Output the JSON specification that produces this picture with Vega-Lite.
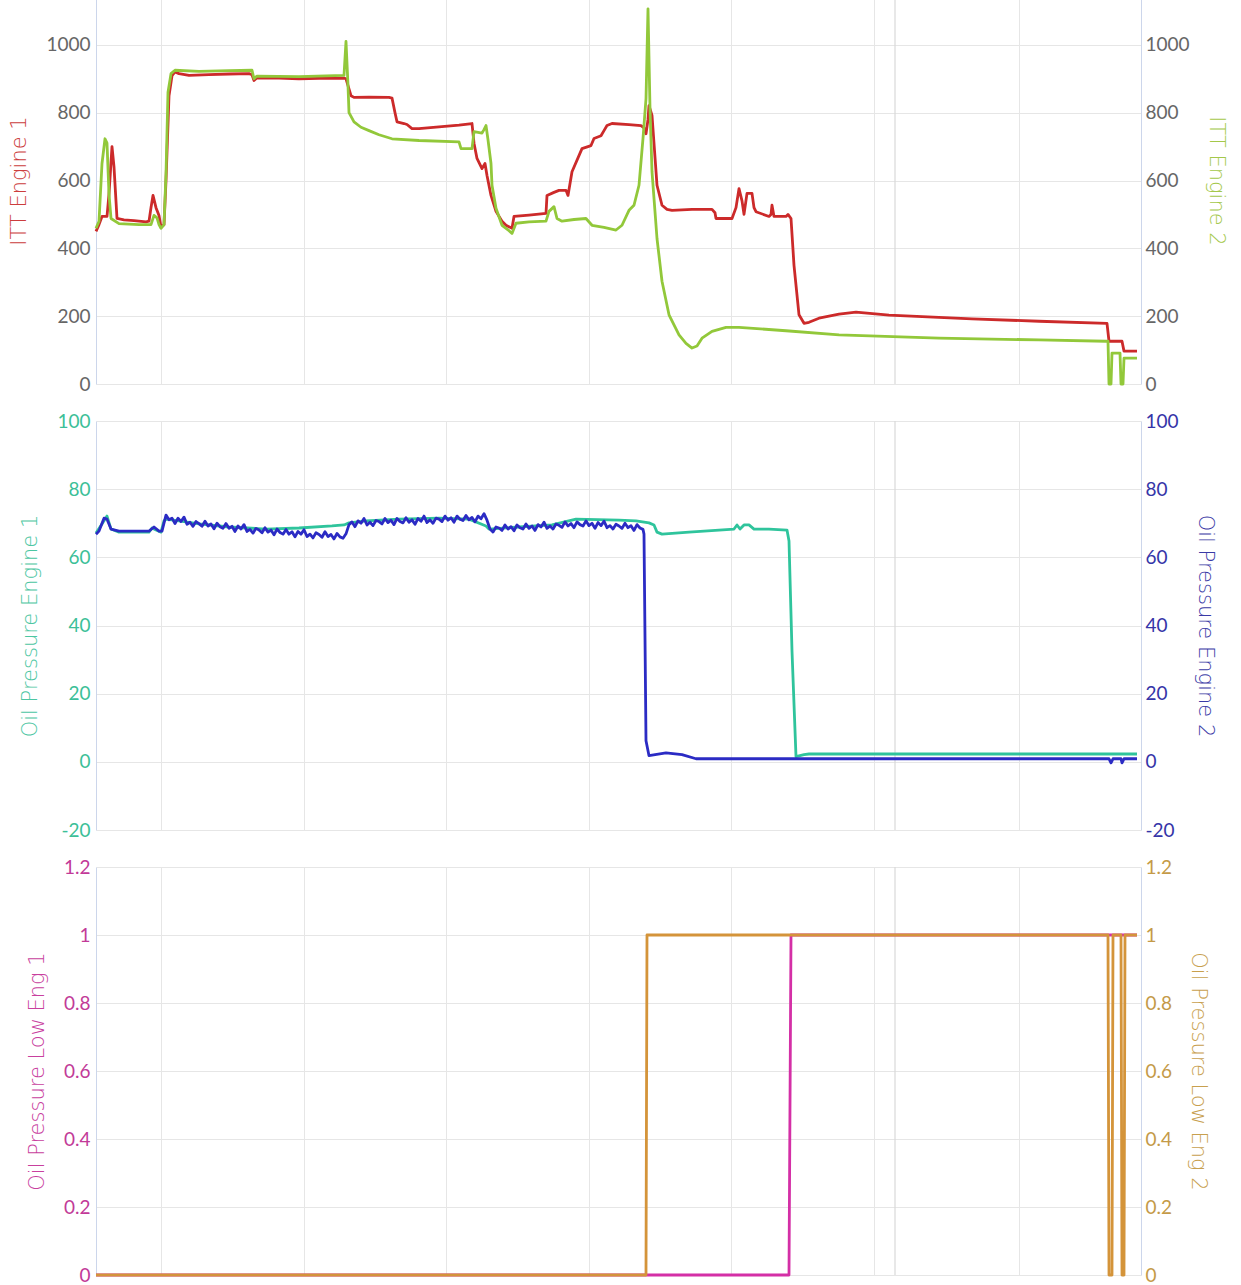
{
  "$schema": "https://vega.github.io/schema/vega-lite/v6.json",
  "padding": {"left": 8, "top": -24, "right": 5, "bottom": 5},
  "bounds": "flush",
  "spacing": 37,
  "config": {
    "view": {"stroke": null},
    "axis": {
      "labelFont": "Lato", "labelFontSize": 19, "labelFontWeight": "normal",
      "titleFont": "DejaVu Sans", "titleFontSize": 21, "titleFontWeight": 300,
      "ticks": false, "domainColor": "#ccd6eb", "domainWidth": 1,
      "gridColor": "#e6e6e6", "gridWidth": 1, "labelPadding": 6, "titlePadding": 16
    },
    "line": {"strokeWidth": 2.8, "strokeJoin": "round"}
  },
  "datasets": {
    "marker": [{"t": 799}],
    "itt1": [
      {"t":0,"v":450},{"t":3,"v":470},{"t":6,"v":494},{"t":11,"v":494},{"t":13,"v":560},{"t":16,"v":700},{"t":18,"v":640},{"t":21,"v":488},{"t":28,"v":484},{"t":38,"v":482},{"t":50,"v":478},{"t":53,"v":480},{"t":55,"v":520},{"t":57,"v":556},{"t":60,"v":520},{"t":63,"v":497},{"t":65,"v":462},{"t":68,"v":470},{"t":70,"v":600},{"t":73,"v":850},{"t":76,"v":909},{"t":79,"v":920},{"t":83,"v":915},{"t":93,"v":910},{"t":113,"v":912},{"t":133,"v":914},{"t":153,"v":915},{"t":156,"v":912},{"t":158,"v":895},{"t":161,"v":903},{"t":183,"v":902},{"t":203,"v":900},{"t":223,"v":901},{"t":248,"v":902},{"t":250,"v":900},{"t":252,"v":880},{"t":255,"v":850},{"t":258,"v":845},{"t":273,"v":846},{"t":293,"v":845},{"t":296,"v":843},{"t":299,"v":800},{"t":301,"v":773},{"t":308,"v":768},{"t":311,"v":765},{"t":316,"v":753},{"t":323,"v":753},{"t":343,"v":758},{"t":363,"v":763},{"t":376,"v":768},{"t":378,"v":710},{"t":381,"v":665},{"t":386,"v":635},{"t":389,"v":650},{"t":391,"v":615},{"t":395,"v":556},{"t":400,"v":509},{"t":406,"v":480},{"t":410,"v":468},{"t":416,"v":459},{"t":418,"v":494},{"t":433,"v":498},{"t":450,"v":503},{"t":451,"v":556},{"t":458,"v":565},{"t":463,"v":571},{"t":470,"v":571},{"t":472,"v":556},{"t":476,"v":626},{"t":486,"v":694},{"t":495,"v":703},{"t":498,"v":724},{"t":505,"v":732},{"t":508,"v":747},{"t":511,"v":762},{"t":516,"v":768},{"t":533,"v":765},{"t":545,"v":762},{"t":548,"v":755},{"t":550,"v":738},{"t":552,"v":780},{"t":553,"v":821},{"t":556,"v":792},{"t":561,"v":586},{"t":566,"v":527},{"t":571,"v":515},{"t":576,"v":512},{"t":596,"v":515},{"t":616,"v":515},{"t":619,"v":505},{"t":620,"v":488},{"t":636,"v":488},{"t":640,"v":520},{"t":643,"v":576},{"t":646,"v":540},{"t":648,"v":500},{"t":651,"v":562},{"t":656,"v":562},{"t":658,"v":520},{"t":660,"v":508},{"t":673,"v":494},{"t":675,"v":500},{"t":676,"v":527},{"t":678,"v":494},{"t":690,"v":494},{"t":692,"v":500},{"t":695,"v":488},{"t":698,"v":350},{"t":703,"v":204},{"t":708,"v":179},{"t":713,"v":182},{"t":723,"v":194},{"t":743,"v":206},{"t":760,"v":212},{"t":793,"v":203},{"t":876,"v":192},{"t":943,"v":185},{"t":1011,"v":179},{"t":1013,"v":126},{"t":1026,"v":126},{"t":1028,"v":97},{"t":1041,"v":97}
    ],
    "itt2": [
      {"t":0,"v":459},{"t":3,"v":480},{"t":6,"v":650},{"t":9,"v":723},{"t":11,"v":710},{"t":13,"v":560},{"t":15,"v":488},{"t":23,"v":473},{"t":43,"v":470},{"t":55,"v":470},{"t":58,"v":497},{"t":61,"v":490},{"t":63,"v":470},{"t":65,"v":459},{"t":68,"v":470},{"t":70,"v":620},{"t":72,"v":860},{"t":75,"v":915},{"t":79,"v":925},{"t":103,"v":922},{"t":133,"v":924},{"t":156,"v":925},{"t":158,"v":900},{"t":161,"v":908},{"t":203,"v":906},{"t":248,"v":910},{"t":250,"v":1010},{"t":252,"v":880},{"t":253,"v":800},{"t":258,"v":773},{"t":265,"v":757},{"t":273,"v":747},{"t":283,"v":735},{"t":296,"v":723},{"t":323,"v":718},{"t":363,"v":714},{"t":365,"v":694},{"t":376,"v":694},{"t":378,"v":744},{"t":386,"v":740},{"t":388,"v":750},{"t":390,"v":762},{"t":392,"v":720},{"t":395,"v":650},{"t":396,"v":586},{"t":400,"v":518},{"t":406,"v":468},{"t":413,"v":452},{"t":416,"v":444},{"t":420,"v":474},{"t":433,"v":478},{"t":450,"v":480},{"t":453,"v":509},{"t":458,"v":523},{"t":461,"v":488},{"t":466,"v":480},{"t":478,"v":485},{"t":490,"v":488},{"t":496,"v":468},{"t":508,"v":462},{"t":520,"v":454},{"t":526,"v":468},{"t":533,"v":512},{"t":538,"v":527},{"t":543,"v":586},{"t":547,"v":724},{"t":550,"v":841},{"t":552,"v":1106},{"t":554,"v":812},{"t":556,"v":626},{"t":561,"v":429},{"t":566,"v":303},{"t":573,"v":204},{"t":583,"v":145},{"t":590,"v":120},{"t":596,"v":106},{"t":601,"v":112},{"t":606,"v":135},{"t":616,"v":155},{"t":630,"v":167},{"t":643,"v":167},{"t":690,"v":157},{"t":743,"v":145},{"t":843,"v":135},{"t":943,"v":130},{"t":1010,"v":126},{"t":1012,"v":126},{"t":1013,"v":0},{"t":1015,"v":0},{"t":1016,"v":91},{"t":1024,"v":91},{"t":1025,"v":0},{"t":1027,"v":0},{"t":1028,"v":76},{"t":1041,"v":76}
    ],
    "op1": [
      {"t":0,"v":67.1},{"t":6,"v":69.8},{"t":11,"v":72.1},{"t":15,"v":68.3},{"t":23,"v":67.4},{"t":53,"v":67.4},{"t":56,"v":68.6},{"t":60,"v":68.0},{"t":65,"v":67.4},{"t":68,"v":70.7},{"t":70,"v":71.2},{"t":83,"v":70.7},{"t":103,"v":69.8},{"t":133,"v":68.9},{"t":170,"v":68.3},{"t":203,"v":68.6},{"t":236,"v":69.2},{"t":248,"v":69.5},{"t":253,"v":70.1},{"t":270,"v":70.7},{"t":303,"v":71.2},{"t":343,"v":71.5},{"t":373,"v":71.2},{"t":390,"v":69.2},{"t":393,"v":68.3},{"t":423,"v":68.9},{"t":456,"v":69.5},{"t":480,"v":71.2},{"t":523,"v":70.9},{"t":540,"v":70.7},{"t":553,"v":70.1},{"t":558,"v":69.5},{"t":561,"v":67.4},{"t":566,"v":66.8},{"t":593,"v":67.4},{"t":623,"v":68.0},{"t":638,"v":68.3},{"t":641,"v":69.5},{"t":644,"v":68.3},{"t":648,"v":69.5},{"t":653,"v":69.5},{"t":658,"v":68.3},{"t":673,"v":68.3},{"t":691,"v":68.0},{"t":693,"v":64.8},{"t":696,"v":32.5},{"t":700,"v":1.5},{"t":708,"v":2.1},{"t":713,"v":2.3},{"t":1041,"v":2.3}
    ],
    "op2": [
      {"t":0,"v":66.8},{"t":3,"v":67.7},{"t":8,"v":71.5},{"t":11,"v":71.2},{"t":15,"v":68.3},{"t":23,"v":67.7},{"t":53,"v":67.7},{"t":58,"v":68.9},{"t":63,"v":67.7},{"t":66,"v":67.7},
      {"t":70,"v":72.4},{"t":73,"v":71.0},{"t":76,"v":71.5},{"t":79,"v":69.9},{"t":82,"v":71.5},{"t":85,"v":70.5},{"t":88,"v":71.8},{"t":91,"v":69.7},{"t":94,"v":70.3},{"t":97,"v":69.1},{"t":100,"v":70.5},{"t":103,"v":69.9},{"t":106,"v":69.1},{"t":109,"v":70.6},{"t":112,"v":69.2},{"t":115,"v":69.8},{"t":118,"v":68.4},{"t":121,"v":70.0},{"t":124,"v":69.0},{"t":127,"v":68.5},{"t":130,"v":69.9},{"t":133,"v":68.5},{"t":136,"v":69.1},{"t":139,"v":67.6},{"t":142,"v":69.2},{"t":145,"v":68.3},{"t":148,"v":69.6},{"t":151,"v":67.6},{"t":154,"v":68.2},{"t":157,"v":67.1},{"t":160,"v":68.5},{"t":163,"v":68.0},{"t":166,"v":67.2},{"t":169,"v":68.7},{"t":172,"v":67.4},{"t":175,"v":68.0},{"t":178,"v":66.6},{"t":181,"v":68.3},{"t":184,"v":67.3},{"t":187,"v":66.8},{"t":190,"v":68.2},{"t":193,"v":66.8},{"t":196,"v":67.5},{"t":199,"v":66.0},{"t":202,"v":67.6},{"t":205,"v":66.8},{"t":208,"v":68.1},{"t":211,"v":66.1},{"t":214,"v":66.8},{"t":217,"v":65.7},{"t":220,"v":67.2},{"t":223,"v":66.7},{"t":226,"v":65.9},{"t":229,"v":67.5},{"t":232,"v":66.1},{"t":235,"v":66.7},{"t":238,"v":65.4},{"t":241,"v":67.0},{"t":244,"v":66.0},{"t":247,"v":65.6},{"t":250,"v":66.9},
      {"t":253,"v":69.6},{"t":256,"v":70.4},{"t":259,"v":69.0},{"t":262,"v":70.7},{"t":265,"v":70.0},{"t":268,"v":71.4},{"t":271,"v":69.5},{"t":274,"v":70.3},{"t":277,"v":69.3},{"t":280,"v":70.8},{"t":283,"v":70.5},{"t":286,"v":69.8},{"t":289,"v":71.4},{"t":292,"v":70.2},{"t":295,"v":70.9},{"t":298,"v":69.6},{"t":301,"v":71.4},{"t":304,"v":70.5},{"t":307,"v":70.1},{"t":310,"v":71.6},{"t":313,"v":70.3},{"t":316,"v":71.0},{"t":319,"v":69.7},{"t":322,"v":71.4},{"t":325,"v":70.6},{"t":328,"v":72.1},{"t":331,"v":70.2},{"t":334,"v":71.0},{"t":337,"v":70.0},{"t":340,"v":71.5},{"t":343,"v":71.2},{"t":346,"v":70.5},{"t":349,"v":72.1},{"t":352,"v":70.9},{"t":355,"v":71.6},{"t":358,"v":70.3},{"t":361,"v":72.1},{"t":364,"v":71.2},{"t":367,"v":70.8},{"t":370,"v":72.3},{"t":373,"v":71.0},{"t":376,"v":71.7},{"t":379,"v":70.4},{"t":382,"v":72.1},{"t":385,"v":71.3},{"t":388,"v":72.8},{"t":391,"v":70.9},
      {"t":394,"v":68.3},{"t":397,"v":67.4},{"t":400,"v":68.9},{"t":403,"v":68.6},{"t":406,"v":67.9},{"t":409,"v":69.5},{"t":412,"v":68.3},{"t":415,"v":69.0},{"t":418,"v":67.8},{"t":421,"v":69.5},{"t":424,"v":68.7},{"t":427,"v":68.3},{"t":430,"v":69.8},{"t":433,"v":68.5},{"t":436,"v":69.2},{"t":439,"v":67.9},{"t":442,"v":69.6},{"t":445,"v":68.9},{"t":448,"v":70.3},{"t":451,"v":68.5},{"t":454,"v":69.2},{"t":457,"v":68.3},{"t":460,"v":69.8},{"t":463,"v":69.4},{"t":466,"v":68.8},{"t":469,"v":70.4},{"t":472,"v":69.2},{"t":475,"v":69.9},{"t":478,"v":68.7},{"t":481,"v":70.4},{"t":484,"v":69.6},{"t":487,"v":69.2},{"t":490,"v":70.7},{"t":493,"v":69.3},{"t":496,"v":70.0},{"t":499,"v":68.5},{"t":502,"v":70.2},{"t":505,"v":69.3},{"t":508,"v":70.6},{"t":511,"v":68.7},{"t":514,"v":69.3},{"t":517,"v":68.3},{"t":520,"v":69.7},{"t":523,"v":69.2},{"t":526,"v":68.5},{"t":529,"v":70.0},{"t":532,"v":68.7},{"t":535,"v":69.3},{"t":538,"v":67.9},{"t":541,"v":69.6},{"t":544,"v":68.6},{"t":547,"v":68.2},
      {"t":548,"v":66.8},{"t":550,"v":6.2},{"t":553,"v":1.8},{"t":570,"v":2.6},{"t":586,"v":2.1},{"t":600,"v":0.9},{"t":1013,"v":0.9},{"t":1015,"v":-0.3},{"t":1017,"v":0.9},{"t":1025,"v":0.9},{"t":1026,"v":-0.3},{"t":1028,"v":0.9},{"t":1041,"v":0.9}
    ],
    "opl1": [
      {"t":0,"v":0},{"t":693,"v":0},{"t":695,"v":1},{"t":1041,"v":1}
    ],
    "opl2": [
      {"t":0,"v":0},{"t":550,"v":0},{"t":551,"v":1},{"t":1012,"v":1},{"t":1013,"v":0},{"t":1016,"v":0},{"t":1017,"v":1},{"t":1025,"v":1},{"t":1026,"v":0},{"t":1028,"v":0},{"t":1029,"v":1},{"t":1041,"v":1}
    ]
  },
  "vconcat": [
    {
      "width": 1045, "height": 407,
      "layer": [
        {
          "data": {"name": "marker"},
          "mark": {"type": "rule", "color": "#d9d9d9", "strokeWidth": 1.2},
          "encoding": {"x": {"field": "t", "type": "quantitative", "scale": {"domain": [0, 1045], "nice": false, "zero": false}, "axis": {"grid": true, "labels": false, "ticks": false, "domain": false, "title": null, "values": [65, 208, 350, 493, 635, 778, 923]}}}
        },
        {
          "data": {"name": "itt1"},
          "mark": {"type": "line", "color": "#cc2a2a"},
          "encoding": {
            "x": {"field": "t", "type": "quantitative", "scale": {"domain": [0, 1045], "nice": false, "zero": false}, "axis": {"grid": true, "labels": false, "ticks": false, "domain": false, "title": null, "values": [65, 208, 350, 493, 635, 778, 923]}},
            "y": {"field": "v", "type": "quantitative", "scale": {"domain": [0, 1200], "nice": false}, "axis": {"orient": "left", "title": "ITT Engine 1", "titleColor": "#cc3d3d", "labelColor": "#666666", "values": [0, 200, 400, 600, 800, 1000], "format": "d", "grid": true}}
          }
        },
        {
          "data": {"name": "itt2"},
          "mark": {"type": "line", "color": "#92c83a"},
          "encoding": {
            "x": {"field": "t", "type": "quantitative", "scale": {"domain": [0, 1045], "nice": false, "zero": false}, "axis": {"grid": true, "labels": false, "ticks": false, "domain": false, "title": null, "values": [65, 208, 350, 493, 635, 778, 923]}},
            "y": {"field": "v", "type": "quantitative", "scale": {"domain": [0, 1200], "nice": false}, "axis": {"orient": "right", "title": "ITT Engine 2", "titleColor": "#a4c84a", "labelColor": "#666666", "values": [0, 200, 400, 600, 800, 1000], "format": "d", "grid": false, "labelPadding": 4}}
          }
        }
      ],
      "resolve": {"scale": {"y": "independent"}}
    },
    {
      "width": 1045, "height": 409,
      "layer": [
        {
          "data": {"name": "marker"},
          "mark": {"type": "rule", "color": "#d9d9d9", "strokeWidth": 1.2},
          "encoding": {"x": {"field": "t", "type": "quantitative", "scale": {"domain": [0, 1045], "nice": false, "zero": false}, "axis": {"grid": true, "labels": false, "ticks": false, "domain": false, "title": null, "values": [65, 208, 350, 493, 635, 778, 923]}}}
        },
        {
          "data": {"name": "op1"},
          "mark": {"type": "line", "color": "#2fc49c"},
          "encoding": {
            "x": {"field": "t", "type": "quantitative", "scale": {"domain": [0, 1045], "nice": false, "zero": false}, "axis": {"grid": true, "labels": false, "ticks": false, "domain": false, "title": null, "values": [65, 208, 350, 493, 635, 778, 923]}},
            "y": {"field": "v", "type": "quantitative", "scale": {"domain": [-20, 100], "nice": false, "zero": false}, "axis": {"orient": "left", "title": "Oil Pressure Engine 1", "titleColor": "#4cc6a2", "labelColor": "#3cbf98", "values": [-20, 0, 20, 40, 60, 80, 100], "labelExpr": "replace(datum.label, '\u2212', '-')", "grid": true}}
          }
        },
        {
          "data": {"name": "op2"},
          "mark": {"type": "line", "color": "#2b2bc4"},
          "encoding": {
            "x": {"field": "t", "type": "quantitative", "scale": {"domain": [0, 1045], "nice": false, "zero": false}, "axis": {"grid": true, "labels": false, "ticks": false, "domain": false, "title": null, "values": [65, 208, 350, 493, 635, 778, 923]}},
            "y": {"field": "v", "type": "quantitative", "scale": {"domain": [-20, 100], "nice": false, "zero": false}, "axis": {"orient": "right", "title": "Oil Pressure Engine 2", "titleColor": "#3a3aa6", "labelColor": "#3535a8", "values": [-20, 0, 20, 40, 60, 80, 100], "labelExpr": "replace(datum.label, '\u2212', '-')", "grid": false, "labelPadding": 4}}
          }
        }
      ],
      "resolve": {"scale": {"y": "independent"}}
    },
    {
      "width": 1045, "height": 408,
      "layer": [
        {
          "data": {"name": "marker"},
          "mark": {"type": "rule", "color": "#d9d9d9", "strokeWidth": 1.2},
          "encoding": {"x": {"field": "t", "type": "quantitative", "scale": {"domain": [0, 1045], "nice": false, "zero": false}, "axis": {"grid": true, "labels": false, "ticks": false, "domain": false, "title": null, "values": [65, 208, 350, 493, 635, 778, 923]}}}
        },
        {
          "data": {"name": "opl1"},
          "mark": {"type": "line", "color": "#d42fa6"},
          "encoding": {
            "x": {"field": "t", "type": "quantitative", "scale": {"domain": [0, 1045], "nice": false, "zero": false}, "axis": {"grid": true, "labels": false, "ticks": false, "domain": false, "title": null, "values": [65, 208, 350, 493, 635, 778, 923]}},
            "y": {"field": "v", "type": "quantitative", "scale": {"domain": [0, 1.2], "nice": false}, "axis": {"orient": "left", "title": "Oil Pressure Low Eng 1", "titleColor": "#c8409e", "labelColor": "#c23a98", "values": [0, 0.2, 0.4, 0.6, 0.8, 1, 1.2], "format": "~g", "grid": true}}
          }
        },
        {
          "data": {"name": "opl2"},
          "mark": {"type": "line", "color": "#d4943a"},
          "encoding": {
            "x": {"field": "t", "type": "quantitative", "scale": {"domain": [0, 1045], "nice": false, "zero": false}, "axis": {"grid": true, "labels": false, "ticks": false, "domain": false, "title": null, "values": [65, 208, 350, 493, 635, 778, 923]}},
            "y": {"field": "v", "type": "quantitative", "scale": {"domain": [0, 1.2], "nice": false}, "axis": {"orient": "right", "title": "Oil Pressure Low Eng 2", "titleColor": "#c8a04e", "labelColor": "#c49a48", "values": [0, 0.2, 0.4, 0.6, 0.8, 1, 1.2], "format": "~g", "grid": false, "labelPadding": 4}}
          }
        }
      ],
      "resolve": {"scale": {"y": "independent"}}
    }
  ]
}
